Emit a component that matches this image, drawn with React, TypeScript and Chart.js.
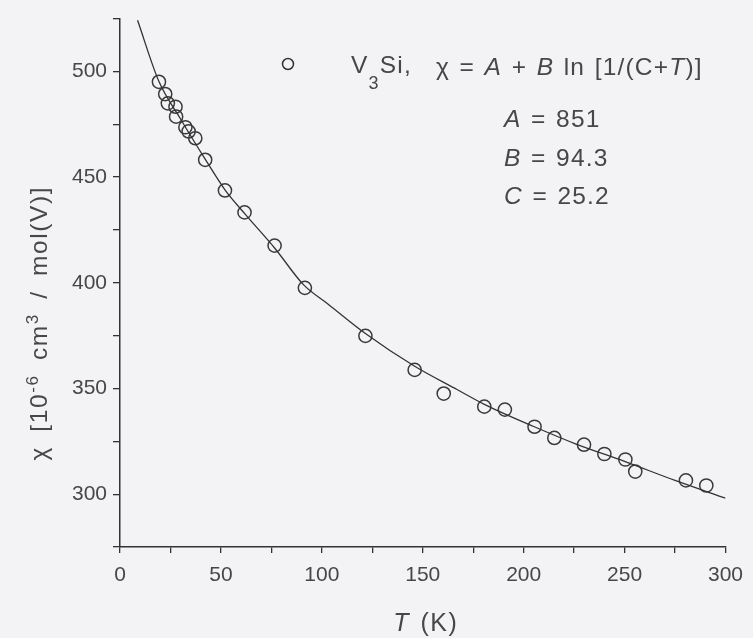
import { useEffect, useRef } from "react";
import { Chart, registerables } from "chart.js";

Chart.register(...registerables);

const measuredT = [19.3, 22.4, 23.7, 27.5, 27.8, 32.4, 34.0, 37.3, 42.2, 52.0, 61.7, 76.6, 91.6, 121.6, 146.0, 160.4, 180.5, 190.7, 205.4, 215.2, 229.9, 240.0, 250.4, 255.3, 280.4, 290.5];
const measuredChi = [495.1, 489.3, 484.9, 483.3, 478.6, 473.6, 471.6, 468.4, 458.2, 443.7, 433.3, 417.6, 397.6, 374.9, 358.8, 347.6, 341.4, 340.0, 331.9, 326.6, 323.4, 319.0, 316.4, 310.7, 306.5, 304.1];

// Fitted curve
const fitT = [8.7, 19.3, 30, 42.2, 52, 62, 77, 91, 103, 121.6, 146, 167, 180.5, 205, 226, 250, 275, 300];
const fitChi = [524.2, 495.2, 477.5, 458.5, 444, 432.5, 416, 399, 390, 376, 360.5, 349.5, 342.5, 332, 323.7, 315.5, 306.5, 298.1];

const xTickLabels = [0, 50, 100, 150, 200, 250, 300];
const yTickLabels = [300, 350, 400, 450, 500];

const paramLines = [
  { name: "A", value: "851" },
  { name: "B", value: "94.3" },
  { name: "C", value: "25.2" },
];

const FONT = "'Liberation Sans', Arial, sans-serif";
const TEXT = "#474747";
const INK = "#333333";

type Run = { t: string; it?: boolean; size?: number; dy?: number };

function setFont(ctx: CanvasRenderingContext2D, r: Run, base: number) {
  ctx.font = `${r.it ? "italic " : ""}${r.size ?? base}px ${FONT}`;
}

function advance(ctx: CanvasRenderingContext2D, ch: string, ls: number, sp: number) {
  return ctx.measureText(ch).width + ls + (ch === " " ? sp : 0);
}

function runWidth(ctx: CanvasRenderingContext2D, runs: Run[], base: number, ls: number, sp = 0) {
  let w = 0;
  for (const r of runs) {
    setFont(ctx, r, base);
    for (const ch of r.t) w += advance(ctx, ch, ls, sp);
  }
  return w - ls;
}

function drawRuns(ctx: CanvasRenderingContext2D, x: number, y: number, runs: Run[], base: number, ls: number, sp = 0) {
  let cx = x;
  ctx.textBaseline = "alphabetic";
  ctx.textAlign = "left";
  for (const r of runs) {
    setFont(ctx, r, base);
    for (const ch of r.t) {
      ctx.fillText(ch, cx, y + (r.dy ?? 0));
      cx += advance(ctx, ch, ls, sp);
    }
  }
}

const annotations = {
  id: "annotations",
  afterDraw(chart: any) {
    const ctx: CanvasRenderingContext2D = chart.ctx;
    ctx.save();
    ctx.fillStyle = TEXT;

    // legend marker
    ctx.beginPath();
    ctx.strokeStyle = INK;
    ctx.lineWidth = 1.5;
    ctx.arc(288, 64, 5.5, 0, Math.PI * 2);
    ctx.stroke();

    const base = 24.5;
    const ls = 1.2;
    drawRuns(ctx, 351, 73, [
      { t: "V" },
      { t: "3", size: 18, dy: 16 },
      { t: "Si," },
    ], base, ls);

    drawRuns(ctx, 436, 75, [
      { t: "χ = " },
      { t: "A", it: true },
      { t: " + " },
      { t: "B", it: true },
      { t: " ln [1/(C+" },
      { t: "T", it: true },
      { t: ")]" },
    ], base, ls, 1.5);

    paramLines.forEach((p, i) => {
      drawRuns(ctx, 504, 127 + i * 38.5, [
        { t: p.name, it: true },
        { t: " = " + p.value },
      ], base, ls, 1.5);
    });

    // x-axis title
    const xr: Run[] = [{ t: "T", it: true }, { t: " (K)" }];
    const xw = runWidth(ctx, xr, 25, 1.5, 2);
    drawRuns(ctx, 425 - xw / 2, 631, xr, 25, 1.5, 2);

    // y-axis title
    const yr: Run[] = [
      { t: "χ [10" },
      { t: "-6", size: 17, dy: -9 },
      { t: " cm" },
      { t: "3", size: 17, dy: -9 },
      { t: " / mol(V)]" },
    ];
    const yw = runWidth(ctx, yr, 24.5, 1.6, 6);
    ctx.translate(47, 324);
    ctx.rotate(-Math.PI / 2);
    drawRuns(ctx, -yw / 2, 0, yr, 24.5, 1.6, 6);

    ctx.restore();
  },
};

export default function App() {
  const ref = useRef<HTMLCanvasElement | null>(null);

  useEffect(() => {
    if (!ref.current) return;
    const chart = new Chart(ref.current, {
      type: "scatter",
      data: {
        datasets: [
          {
            label: "fit",
            data: fitT.map((t, i) => ({ x: t, y: fitChi[i] })),
            showLine: true,
            borderColor: INK,
            borderWidth: 1.3,
            pointRadius: 0,
            cubicInterpolationMode: "monotone",
            fill: false,
          } as any,
          {
            label: "V3Si",
            data: measuredT.map((t, i) => ({ x: t, y: measuredChi[i] })),
            showLine: false,
            pointStyle: "circle",
            pointRadius: 6.6,
            pointBorderWidth: 1.5,
            pointBorderColor: "#3a3a3a",
            pointBackgroundColor: "rgba(0,0,0,0)",
          } as any,
        ],
      },
      options: {
        animation: false,
        responsive: false,
        layout: { padding: { top: 15, right: 22, left: 0, bottom: 0 } },
        plugins: { legend: { display: false }, tooltip: { enabled: false } },
        scales: {
          x: {
            type: "linear",
            min: 0,
            max: 300,
            afterFit: (s: any) => { s.height = 91; },
            border: { display: true, color: INK, width: 1.5 },
            grid: { display: true, drawOnChartArea: false, drawTicks: true, tickLength: 6, color: INK, lineWidth: 1.3 },
            ticks: {
              stepSize: 25,
              padding: 10,
              color: TEXT,
              font: { family: FONT, size: 21 },
              maxRotation: 0,
              autoSkip: false,
              callback: (v: any) => (xTickLabels.includes(Number(v)) ? String(v) : ""),
            },
          },
          y: {
            type: "linear",
            min: 275,
            max: 525,
            afterFit: (s: any) => { s.width = 120; },
            border: { display: true, color: INK, width: 1.5 },
            grid: { display: true, drawOnChartArea: false, drawTicks: true, tickLength: 7, color: INK, lineWidth: 1.3 },
            ticks: {
              stepSize: 25,
              padding: 6,
              color: TEXT,
              font: { family: FONT, size: 21 },
              autoSkip: false,
              callback: (v: any) => (yTickLabels.includes(Number(v)) ? String(v) : ""),
            },
          },
        },
      },
      plugins: [annotations],
    });
    return () => chart.destroy();
  }, []);

  return (
    <div style={{ position: "fixed", left: 0, top: 0, width: 753, height: 638, background: "#f3f3f5" }}>
      <canvas ref={ref} width={753} height={638} style={{ display: "block" }} />
    </div>
  );
}
